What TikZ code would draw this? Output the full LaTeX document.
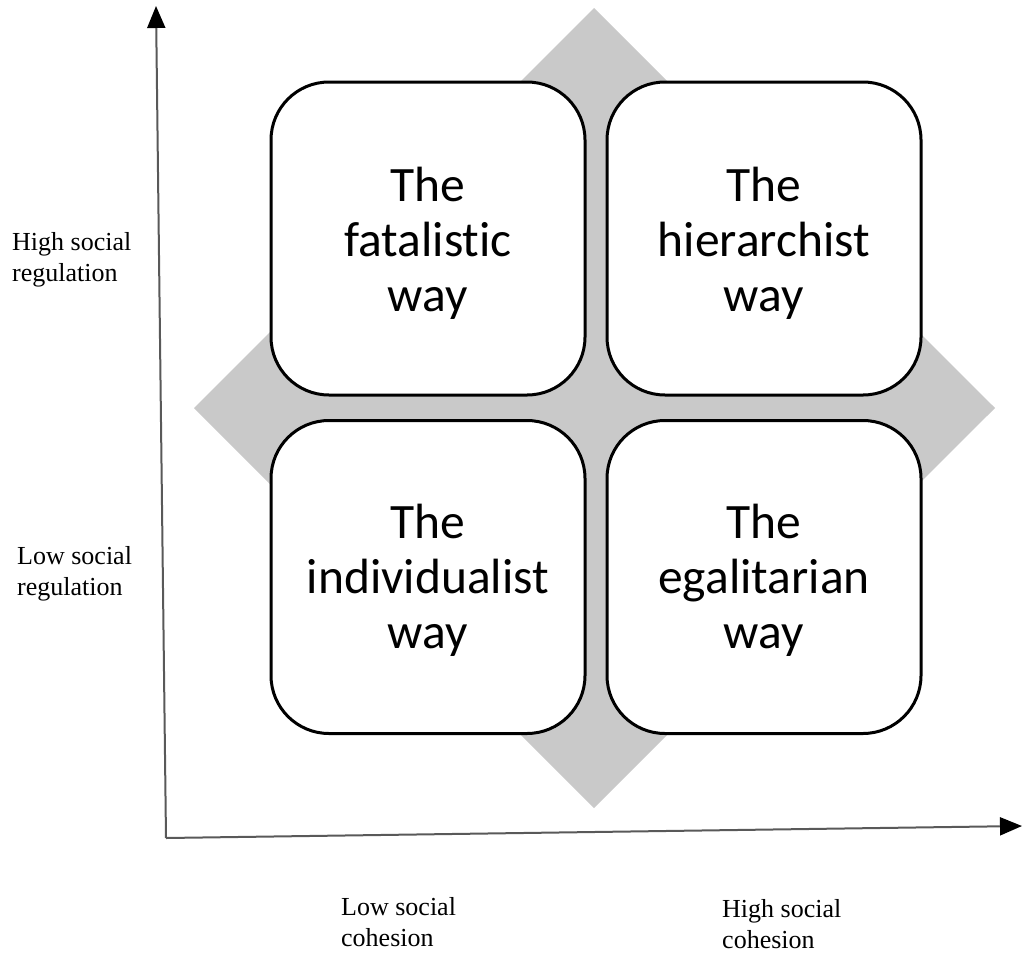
\documentclass[tikz,border=0pt]{standalone}
\usepackage{fontspec}
\setmainfont{Liberation Serif}
\newfontfamily\boxfont[Ligatures={NoCommon}]{Carlito}
\usetikzlibrary{arrows.meta}
\begin{document}
\begin{tikzpicture}[x=1pt,y=-1pt,
  way/.style={draw=black,line width=3pt,fill=white,rounded corners=58pt,
    minimum width=314pt,minimum height=313pt},
  waytext/.style={align=center,inner sep=0pt,
    font=\boxfont\fontsize{49.5}{55}\selectfont},
  axislabel/.style={anchor=north west,align=left,inner sep=0pt,
    font=\fontsize{26}{31}\selectfont},
  axis/.style={draw=black!65,line width=2pt,
    -{Triangle[length=22pt,width=18pt,color=black]}}]
\useasboundingbox (0,0) rectangle (1022,953);
% grey diamond behind the four quadrants
\fill[black!21] (594,8) -- (995,408) -- (594,808) -- (194,408) -- cycle;
% the four ways
\node[way] (fat) at (428,238.5) {};
\node[way] (hier) at (764,238.5) {};
\node[way] (ind) at (428,577) {};
\node[way] (ega) at (764,577) {};
\node[waytext] (fattext) at ([yshift=-5pt]fat.center) {The\\fatalistic\\way};
\node[waytext] (hiertext) at ([yshift=-5pt]hier.center) {The\\hierarchist\\way};
\node[waytext] (indtext) at ([yshift=-3pt]ind.center) {The\\individualist\\way};
\node[waytext] (egatext) at ([yshift=-3pt]ega.center) {The\\egalitarian\\way};
% axes
\coordinate (origin) at (166,838);
\coordinate (ytip) at (156,6);
\coordinate (xtip) at (1022,826);
\draw[axis] (origin) -- (ytip);
\draw[axis] (origin) -- (xtip);
% axis labels
\node[axislabel] (hreg) at (12,232) {High social\\regulation};
\node[axislabel] (lreg) at (17,546) {Low social\\regulation};
\node[axislabel] (lcoh) at (341,897) {Low social\\cohesion};
\node[axislabel] (hcoh) at (722,899) {High social\\cohesion};
\end{tikzpicture}
\end{document}
